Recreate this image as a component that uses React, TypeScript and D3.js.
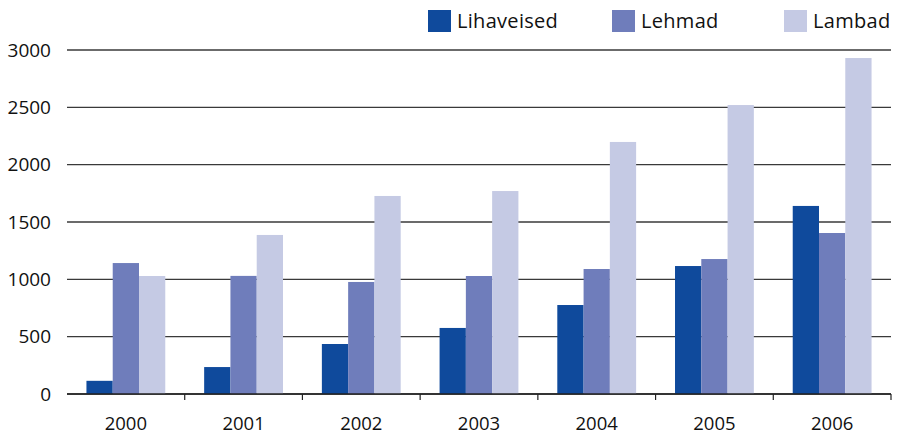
import React from "react";
import * as d3 from "d3";

const years = ["2000", "2001", "2002", "2003", "2004", "2005", "2006"];
const seriesNames = ["Lihaveised", "Lehmad", "Lambad"];
const lihaveised = [115, 235, 436, 576, 776, 1116, 1640];
const lehmad = [1142, 1030, 977, 1029, 1090, 1177, 1404];
const lambad = [1029, 1387, 1727, 1770, 2198, 2520, 2930];
const yTicks = [0, 500, 1000, 1500, 2000, 2500, 3000];
const colors = ["#0F4A9C", "#6F7DBB", "#C5CAE4"];

const W = 899;
const H = 434;
const left = 67;
const right = 891;
const top = 50;
const bottom = 394;
const font = "'Open Sans', 'Liberation Sans', sans-serif";

export default function App() {
  const series = [lihaveised, lehmad, lambad];
  const x = d3.scaleBand<string>().domain(years).range([left, right]).paddingInner(0).paddingOuter(0);
  const inner = d3.scaleBand<string>().domain(seriesNames).range([0, x.bandwidth()]).paddingInner(0).paddingOuter(0.74);
  const y = d3.scaleLinear().domain([0, 3000]).range([bottom, top]);

  const legendX = [428, 612, 784];

  return (
    <svg width={W} height={H} style={{ position: "absolute", left: 0, top: 0 }} fontFamily={font}>
      <rect width={W} height={H} fill="#fff" />
      {yTicks.map((t) => (
        <g key={t}>
          <line x1={left} x2={right} y1={y(t)} y2={y(t)} stroke="#3a3a3a" strokeWidth={1.4} />
          <text x={51} y={y(t)} dy="0.35em" textAnchor="end" fontSize={19} fill="#111">
            {t}
          </text>
        </g>
      ))}
      {years.map((yr, i) => (
        <g key={yr}>
          {series.map((s, j) => (
            <rect
              key={j}
              x={(x(yr) as number) + (inner(seriesNames[j]) as number)}
              width={inner.bandwidth()}
              y={y(s[i])}
              height={y(0) - y(s[i])}
              fill={colors[j]}
            />
          ))}
          <text x={(x(yr) as number) + x.bandwidth() / 2} y={429.5} textAnchor="middle" fontSize={18.5} fill="#111">
            {yr}
          </text>
        </g>
      ))}
      <line x1={left} x2={right} y1={bottom} y2={bottom} stroke="#222" strokeWidth={1.4} />
      {years.map((yr) => (
        <line key={yr} x1={(x(yr) as number) + x.bandwidth()} x2={(x(yr) as number) + x.bandwidth()} y1={bottom} y2={bottom + 6} stroke="#222" strokeWidth={1.2} />
      ))}
      {seriesNames.map((n, j) => (
        <g key={n}>
          <rect x={legendX[j]} y={10} width={23} height={22} fill={colors[j]} />
          <text x={legendX[j] + 29} y={21} dy="0.35em" fontSize={20} letterSpacing={0.3} fill="#111">
            {n}
          </text>
        </g>
      ))}
    </svg>
  );
}
